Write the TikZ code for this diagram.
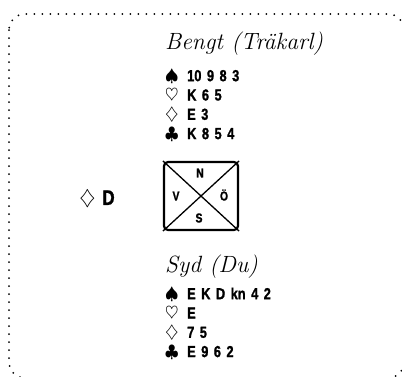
\documentclass[tikz,border=0pt]{standalone}
\usepackage{fontspec}
\newfontfamily\cardfont[FakeStretch=0.8,FakeBold=1.2]{Liberation Sans}
\usetikzlibrary{positioning}

\newcommand\handfont{\cardfont\bfseries\fontsize{16}{19.3}\selectfont
  \spaceskip 5.5pt\relax}
\newcommand\suitrow[2]{\makebox[22pt][l]{$#1$}#2}

\begin{document}
\begin{tikzpicture}[x=1pt,y=-1pt,
    hand/.style={align=left,anchor=north west,inner sep=0pt,font=\handfont},
    player/.style={anchor=base west,inner sep=0pt,
      font=\itshape\fontsize{23.5}{26}\selectfont},
    compass/.style={inner sep=0pt,
      font=\cardfont\bfseries\fontsize{13}{13}\selectfont}]

        \useasboundingbox (0,0) rectangle (402,376);

        % frame
        \begin{scope}
          \clip (0,0) rectangle (402,376);
          \draw[line width=2pt,line cap=round,dash pattern=on 0pt off 8pt,
            rounded corners=16pt] (9,14) rectangle (404,378);
        \end{scope}

        % north
        \node[player] (northname) at (165,49) {Bengt (Träkarl)};
        \node[hand] (northhand) at (165,69) {%
          \suitrow{\spadesuit}{10 9 8 3}\\
          \suitrow{\heartsuit}{K 6 5}\\
          \suitrow{\diamondsuit}{E 3}\\
          \suitrow{\clubsuit}{K 8 5 4}};

        % table
        \node[draw,line width=2.2pt,rounded corners=4pt,minimum width=74pt,
          minimum height=68pt] (deal) at (201,196) {};
        \draw[line width=1.3pt] (deal.north west) -- (deal.south east);
        \draw[line width=1.3pt] (deal.south west) -- (deal.north east);

        \begin{scope}[every node/.style={compass}]
          \node (n) at (200,173) {N};
          \node (v) at (176,196) {V};
          \node (o) at (224,195) {Ö};
          \node (s) at (199,218) {S};
        \end{scope}

        % west
        \node[inner sep=0pt,font=\cardfont\bfseries\fontsize{21}{21}\selectfont]
          (westcard) at (97,199) {$\diamondsuit$\hspace{7pt}D};

        % south
        \node[player] (southname) at (165,272) {Syd (Du)};
        \node[hand] (southhand) at (165,287) {%
          \suitrow{\spadesuit}{E K D kn 4 2}\\
          \suitrow{\heartsuit}{E}\\
          \suitrow{\diamondsuit}{7 5}\\
          \suitrow{\clubsuit}{E 9 6 2}};

      \end{tikzpicture}
\end{document}
